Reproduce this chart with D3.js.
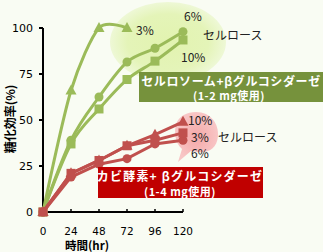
<!DOCTYPE html>
<html>
<head>
<meta charset="utf-8">
<script src="https://cdn.jsdelivr.net/npm/d3@7"></script>
<style>
  body { margin: 0; background: #f9fcf3; }
  svg { display: block; }
</style>
</head>
<body>
<div id="chart"></div>
<script>
// Daten
const hours = [0, 24, 48, 72, 96, 120];
const xTicks = [0, 24, 48, 72, 96, 120];
const yTicks = [0, 25, 50, 75, 100];

// Cellulosome + beta-glucosidase (green)
const green3 = [0, 66, 100, 100];
const green6 = [0, 39, 62.5, 81.5, 89, 98];
const green10 = [0, 37, 56, 72, 82, 93.5];

// Mold enzyme + beta-glucosidase (red)
const red10 = [0, 21, 28, 36, 42, 49];
const red3 = [0, 21, 28, 36, 39, 43];
const red6 = [0, 19, 26, 29, 37, 39];

const width = 323, height = 252;
const svg = d3.select("#chart").append("svg")
  .attr("width", width).attr("height", height)
  .style("font-family", "'Noto Sans CJK JP', 'DejaVu Sans', sans-serif");

svg.append("rect").attr("width", width).attr("height", height).attr("fill", "#f9fcf3");

const x = d3.scaleLinear().domain([0, 120]).range([43, 183]);
const y = d3.scaleLinear().domain([0, 100]).range([212, 28]);

const defs = svg.append("defs");
const gg = defs.append("radialGradient").attr("id", "gglow");
gg.append("stop").attr("offset", "0%").attr("stop-color", "#e2f3b0");
gg.append("stop").attr("offset", "70%").attr("stop-color", "#e4f4b8");
gg.append("stop").attr("offset", "100%").attr("stop-color", "#eef8d6");
const rg = defs.append("radialGradient").attr("id", "rglow");
rg.append("stop").attr("offset", "0%").attr("stop-color", "#f4a8a8");
rg.append("stop").attr("offset", "100%").attr("stop-color", "#f8c6c6");

// Hervorhebungen
svg.append("ellipse").attr("cx", 168).attr("cy", 42).attr("rx", 58).attr("ry", 40)
  .attr("fill", "url(#gglow)");
svg.append("path")
  .attr("d", "M196,112 C211,112 219,124 218,136 C217,149 208,153 198,152 L191,151 L178,162 L182,149 C175,143 174,132 176,124 C179,116 187,112 196,112 Z")
  .attr("fill", "url(#rglow)");

// Achsen
const ax = svg.append("g").attr("stroke", "#000").attr("stroke-width", 2);
ax.append("line").attr("x1", 43).attr("x2", 43).attr("y1", y(100)).attr("y2", y(0));
ax.append("line").attr("x1", 43).attr("x2", x(120)).attr("y1", y(0)).attr("y2", y(0));
ax.selectAll(".yt").data(yTicks).join("line")
  .attr("x1", 39).attr("x2", 43).attr("y1", d => y(d)).attr("y2", d => y(d));
ax.selectAll(".xt").data(xTicks.slice(1)).join("line")
  .attr("stroke-width", 1.5)
  .attr("x1", d => x(d)).attr("x2", d => x(d)).attr("y1", y(0)).attr("y2", y(0) - 3);

svg.selectAll(".ylab").data(yTicks).join("text")
  .attr("x", 33).attr("y", d => y(d) + 4).attr("text-anchor", "end")
  .attr("font-size", 11).attr("font-family", "'DejaVu Sans', sans-serif").attr("fill", "#000")
  .text(d => d);
svg.selectAll(".xlab").data(xTicks).join("text")
  .attr("x", d => x(d)).attr("y", 235).attr("text-anchor", "middle")
  .attr("font-size", 10.5).attr("font-family", "'DejaVu Sans', sans-serif").attr("fill", "#000")
  .text(d => d);

svg.append("text").attr("x", 87).attr("y", 250).attr("text-anchor", "middle")
  .attr("font-size", 11.5).attr("font-weight", "bold").text("時間(hr)");
svg.append("text").attr("transform", "translate(15,119) rotate(-90)")
  .attr("text-anchor", "middle").attr("font-size", 12).attr("font-weight", "bold")
  .text("糖化効率(%)");

// Linien
const GREEN = "#9bbb59", RED = "#c0504d";
function series(vals, color, shape, curve) {
  const pts = vals.map((v, i) => [hours[i], v]);
  const line = d3.line().x(d => x(d[0])).y(d => y(d[1])).curve(curve);
  svg.append("path").datum(pts).attr("d", line)
    .attr("fill", "none").attr("stroke", color).attr("stroke-width", 3);
  const g = svg.append("g").attr("fill", color);
  pts.forEach(p => {
    const cx = x(p[0]), cy = y(p[1]);
    if (shape === "circle") g.append("circle").attr("cx", cx).attr("cy", cy).attr("r", 4.5);
    else if (shape === "square") g.append("rect").attr("x", cx - 4.5).attr("y", cy - 4.5).attr("width", 9).attr("height", 9);
    else g.append("path").attr("d", `M${cx},${cy - 6}L${cx + 5.5},${cy + 4}L${cx - 5.5},${cy + 4}Z`);
  });
}
series(green3, GREEN, "triangle", d3.curveCardinal.tension(0.2));
series(green6, GREEN, "circle", d3.curveMonotoneX);
series(green10, GREEN, "square", d3.curveMonotoneX);
series(red6, RED, "circle", d3.curveLinear);
series(red3, RED, "square", d3.curveLinear);
series(red10, RED, "triangle", d3.curveLinear);

// Beschriftungen
const lab = (t, px, py) => svg.append("text").attr("x", px).attr("y", py)
  .attr("font-size", 12).attr("fill", "#222").text(t);
lab("3%", 136, 35);
lab("6%", 184, 21);
lab("セルロース", 203, 40);
lab("10%", 181, 62);
lab("10%", 188, 125);
lab("3%", 191, 142);
lab("セルロース", 218, 142);
lab("6%", 191, 158);

// Legenden-Boxen
svg.append("rect").attr("x", 139).attr("y", 72).attr("width", 184).attr("height", 30).attr("fill", "#76923c");
svg.append("text").attr("x", 231).attr("y", 85.5).attr("text-anchor", "middle").attr("fill", "#fff")
  .attr("font-size", 12).attr("font-weight", "bold").attr("letter-spacing", 0.6)
  .text("セルロソーム+βグルコシダーゼ");
svg.append("text").attr("x", 229).attr("y", 100).attr("text-anchor", "middle").attr("fill", "#fff")
  .attr("font-size", 11).attr("font-weight", "bold").attr("letter-spacing", 0.5).text("(1-2 mg使用)");

svg.append("rect").attr("x", 98).attr("y", 167).attr("width", 165).attr("height", 31).attr("fill", "#c00000");
svg.append("text").attr("x", 180).attr("y", 180.5).attr("text-anchor", "middle").attr("fill", "#fff")
  .attr("font-size", 12).attr("font-weight", "bold").attr("letter-spacing", 1.2)
  .text("カビ酵素+ βグルコシダーゼ");
svg.append("text").attr("x", 180).attr("y", 195.5).attr("text-anchor", "middle").attr("fill", "#fff")
  .attr("font-size", 11).attr("font-weight", "bold").attr("letter-spacing", 0.5).text("(1-4 mg使用)");
</script>
</body>
</html>
